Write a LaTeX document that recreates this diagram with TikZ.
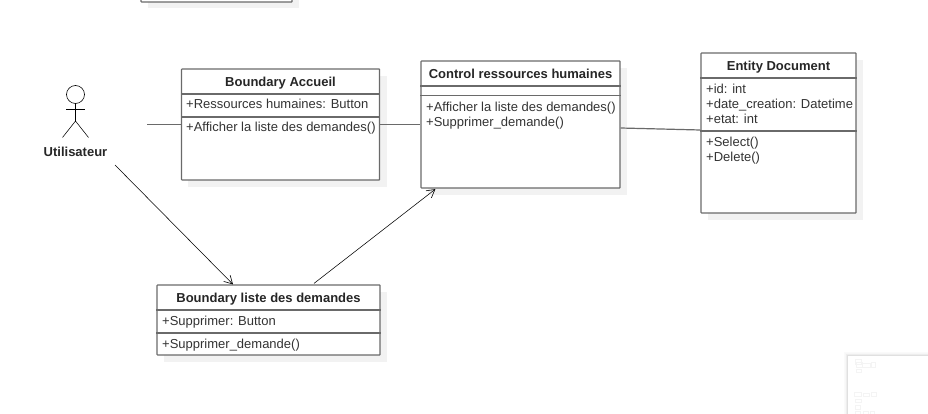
\documentclass[tikz,border=0pt]{standalone}
\usepackage{fontspec}
\setmainfont{Liberation Sans}
\usetikzlibrary{arrows.meta,calc}
\definecolor{edge}{HTML}{6A6A6A}
\definecolor{shade}{HTML}{F2F2F2}
\definecolor{ink}{HTML}{333333}
\definecolor{faint}{HTML}{F4F4F4}
\tikzset{
  classbox/.style={draw=edge,line width=1.2pt,fill=white,rounded corners=0.6pt,minimum width=#1,inner sep=0pt},
  divider/.style={draw=edge,line width=1.2pt},
  shadowbox/.style={fill=shade,draw=none},
  title/.style={font=\fontsize{13}{15}\selectfont\bfseries,text=black!85,inner sep=0pt},
  member/.style={font=\fontsize{13}{15}\selectfont,text=ink,inner sep=0pt,anchor=north west,align=left},
  assoc/.style={draw=edge,line width=1.2pt},
  thin line/.style={draw=black,line width=0.55pt},
  openarrow/.style={thin line,-{Straight Barb[length=8pt,width=9pt,line width=0.6pt]}},
  thumb/.style={draw=faint,line width=0.6pt}
}
\begin{document}
\begin{tikzpicture}[x=1pt,y=-1pt]
\useasboundingbox (0,0) rectangle (928,414);
% bottom-right thumbnail panel
\foreach \g/\d in {98/4,97/3,95/2.5,93/2,91/1.5,88/1,85/0.5}{
  \fill[black!\the\numexpr100-\g\relax] (848-\d,356-\d) rectangle (930,416);
}
\fill[white] (848,356) rectangle (930,416);
\draw[thumb] (855,359) rectangle (861,364);
\draw[thumb] (856,362) rectangle (862,367);
\draw[thumb] (862,363) rectangle (870,367);
\draw[thumb] (871,362) rectangle (875,367);
\draw[thumb] (856,369) rectangle (861,372);
\draw[thumb] (854,392) rectangle (861,396);
\draw[thumb] (863,393) rectangle (869,396);
\draw[thumb] (871,392) rectangle (876,396);
\draw[thumb] (855,399) rectangle (861,402);
\draw[thumb] (855,405) rectangle (860,409);
\draw[thumb] (855,411) rectangle (860,414);
\draw[thumb] (863,411) rectangle (868,414);
\draw[thumb] (870,411) rectangle (874,414);
% shadows
\fill[shadowbox] (148,-5) rectangle (299,8.5);
\fill[shadowbox] (188,76) rectangle (387,187);
\fill[shadowbox] (428,68) rectangle (627,195);
\fill[shadowbox] (708,60) rectangle (863,220);
\fill[shadowbox] (164,292) rectangle (387,362);
% cropped class at top
\node[classbox=151pt,minimum height=20pt] (top) at (216.5,-8) {};
% classes
\node[classbox=198pt,minimum height=111pt] (ba) at (280.5,124.5) {};
\draw[divider] (ba.west |- 0,94) -- (ba.east |- 0,94);
\draw[divider] (ba.west |- 0,117) -- (ba.east |- 0,117);
\node[title] (batitle) at (280.5,83) {Boundary Accueil};
\node[member] (baattr) at (186,99) {+Ressources humaines: Button};
\node[member] (baop) at (186,121.5) {+Afficher la liste des demandes()};

\node[classbox=199pt,minimum height=127pt] (ctrl) at (520.5,124.5) {};
\draw[divider] (ctrl.west |- 0,86) -- (ctrl.east |- 0,86);
\draw[divider] (ctrl.west |- 0,95.5) -- (ctrl.east |- 0,95.5);
\node[title] (ctrltitle) at (520.5,73.5) {Control ressources humaines};
\node[member] (ctrlop) at (426,102) {+Afficher la liste des demandes()\\+Supprimer\_demande()};

\node[classbox=155pt,minimum height=160pt] (ent) at (778.5,133) {};
\draw[divider] (ent.west |- 0,78) -- (ent.east |- 0,78);
\draw[divider] (ent.west |- 0,131) -- (ent.east |- 0,131);
\node[title] (enttitle) at (778.5,67) {Entity Document};
\node[member] (entattr) at (706,84) {+id: int\\+date\_creation: Datetime\\+etat: int};
\node[member] (entop) at (706,137) {+Select()\\+Delete()};

\node[classbox=223pt,minimum height=70pt] (bl) at (268.5,320) {};
\draw[divider] (bl.west |- 0,310) -- (bl.east |- 0,310);
\draw[divider] (bl.west |- 0,333) -- (bl.east |- 0,333);
\node[title] (bltitle) at (268.5,299) {Boundary liste des demandes};
\node[member] (blattr) at (162,315.5) {+Supprimer: Button};
\node[member] (blop) at (162,338.5) {+Supprimer\_demande()};
% actor
\node[draw=black,line width=0.6pt,circle,minimum size=18pt,inner sep=0pt] (head) at (75.5,94.5) {};
\coordinate (hip) at (75.5,121);
\coordinate (armL) at (66,109.5);
\coordinate (armR) at (85,109.5);
\coordinate (footL) at (62.5,137.5);
\coordinate (footR) at (88.5,137.5);
\draw[thin line] (head.south) -- (hip);
\draw[thin line] (armL) -- (armR);
\draw[thin line] (footL) -- (hip) -- (footR);
\node[title] (actor) at (75.5,151.5) {Utilisateur};
% associations
\coordinate (actorstub) at (147,124.5);
\draw[assoc] (actorstub) -- (ba.west);
\draw[assoc] (ba.east) -- (ctrl.west);
\draw[assoc] ($(ctrl.east)+(0,3.5)$) -- (ent.west |- 0,130);
\coordinate (actorout) at (115,165);
\draw[openarrow] (actorout) -- ($(bl.north)+(-35.5,0)$);
\draw[openarrow] ($(bl.north)+(45.5,-1)$) -- ($(ctrl.south west)+(15,0.5)$);
\end{tikzpicture}
\end{document}
